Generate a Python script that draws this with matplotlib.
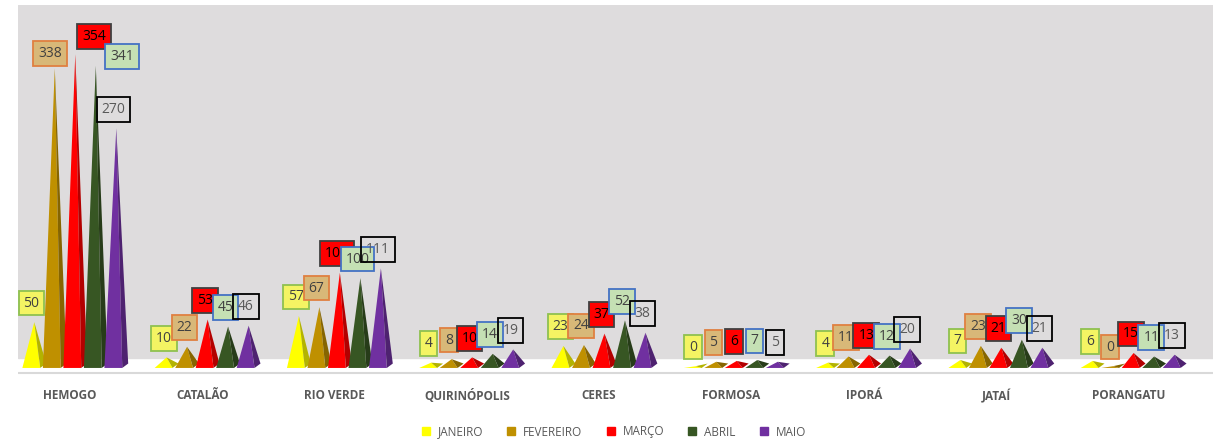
import matplotlib.pyplot as plt
from matplotlib.patches import Polygon
from matplotlib.colors import to_rgb
import numpy as np

plt.rcParams['font.family'] = ['Open Sans', 'DejaVu Sans']

# ---------------------------------------------------------------
# Data
# ---------------------------------------------------------------
categorias = ['HEMOGO', 'CATALÃO', 'RIO VERDE', 'QUIRINÓPOLIS', 'CERES',
              'FORMOSA', 'IPORÁ', 'JATAÍ', 'PORANGATU']
meses = ['JANEIRO', 'FEVEREIRO', 'MARÇO', 'ABRIL', 'MAIO']

janeiro   = [50, 10, 57, 4, 23, 0, 4, 7, 6]
fevereiro = [338, 22, 67, 8, 24, 5, 11, 23, 0]
marco     = [354, 53, 106, 10, 37, 6, 13, 21, 15]
abril     = [341, 45, 100, 14, 52, 7, 12, 30, 11]
maio      = [270, 46, 111, 19, 38, 5, 20, 21, 13]

series = [janeiro, fevereiro, marco, abril, maio]

# ---------------------------------------------------------------
# Styles
# ---------------------------------------------------------------
cores = ['#FFFF00', '#BF9000', '#FF0000', '#375623', '#7030A0']
box_face = ['#F4F463', '#D8B878', '#FF0000', '#C5E0B4', 'none']
box_edge = ['#8FC150', '#E08040', '#404040', '#4472C4', '#000000']
txt_cor  = ['#404040', '#404040', '#000000', '#404040', '#595959']

# label offsets (points) that differ from the default one
offset_padrao = (-2, 15)
offset_especial = {(0, 1): (-3.5, 12), (0, 2): (13.5, 14), (0, 3): (19, 8)}


def escurece(c, f=0.7):
    r, g, b = to_rgb(c)
    return (r * f, g * f, b * f)


fig = plt.figure(figsize=(12.13, 4.41), dpi=100)
ax = fig.add_axes([18/1213, 66/441, 1195/1213, 370/441])
ax.set_xlim(-0.393, 8.64)
ax.set_ylim(-8, 412)
ax.set_facecolor('white')

# back wall and floor line
ax.axhspan(11.4, 412, color='#DEDCDD', zorder=0)
ax.axhline(-5.5, color='#D9D9D9', linewidth=1.5, zorder=1)

passo = 0.155
desloc = 0.04
w = 0.18
prof = 5.0

for j, vals in enumerate(series):
    for i, v in enumerate(vals):
        xc = i + desloc + (j - 2) * passo
        # front face
        frente = Polygon([(xc - w/2, 0), (xc + w*0.25, 0), (xc, v + 2)],
                         closed=True, facecolor=cores[j], edgecolor='none',
                         zorder=2 + j)
        # side face
        lado = Polygon([(xc + w*0.25, 0), (xc + w/2, prof), (xc, v + 2)],
                       closed=True, facecolor=escurece(cores[j]),
                       edgecolor='none', zorder=2 + j)
        ax.add_patch(frente)
        ax.add_patch(lado)

# data labels
for j, vals in enumerate(series):
    for i, v in enumerate(vals):
        xc = i + desloc + (j - 2) * passo
        off = offset_especial.get((i, j), offset_padrao)
        ax.annotate(str(v), xy=(xc, v), xytext=off,
                    textcoords='offset points', ha='center', va='center',
                    fontsize=10, color=txt_cor[j], zorder=20 + j,
                    bbox=dict(boxstyle='square,pad=0.35', facecolor=box_face[j],
                              edgecolor=box_edge[j], linewidth=1.3))

ax.set_xticks(range(len(categorias)))
ax.set_xticklabels(categorias, fontsize=8.5, fontweight='bold', color='#595959')
ax.tick_params(axis='x', length=0, pad=10)
ax.set_yticks([])
for s in ax.spines.values():
    s.set_visible(False)

# legend
handles = [plt.Line2D([], [], marker='s', linestyle='none', markersize=5.5,
                      color=c) for c in cores]
leg = fig.legend(handles, meses, loc='center', bbox_to_anchor=(610/1213, 1 - 432/441),
                 ncol=5, frameon=False, fontsize=8.5, handletextpad=0.0,
                 columnspacing=1.4, labelcolor='#595959')

plt.savefig('out.png', dpi=100)
